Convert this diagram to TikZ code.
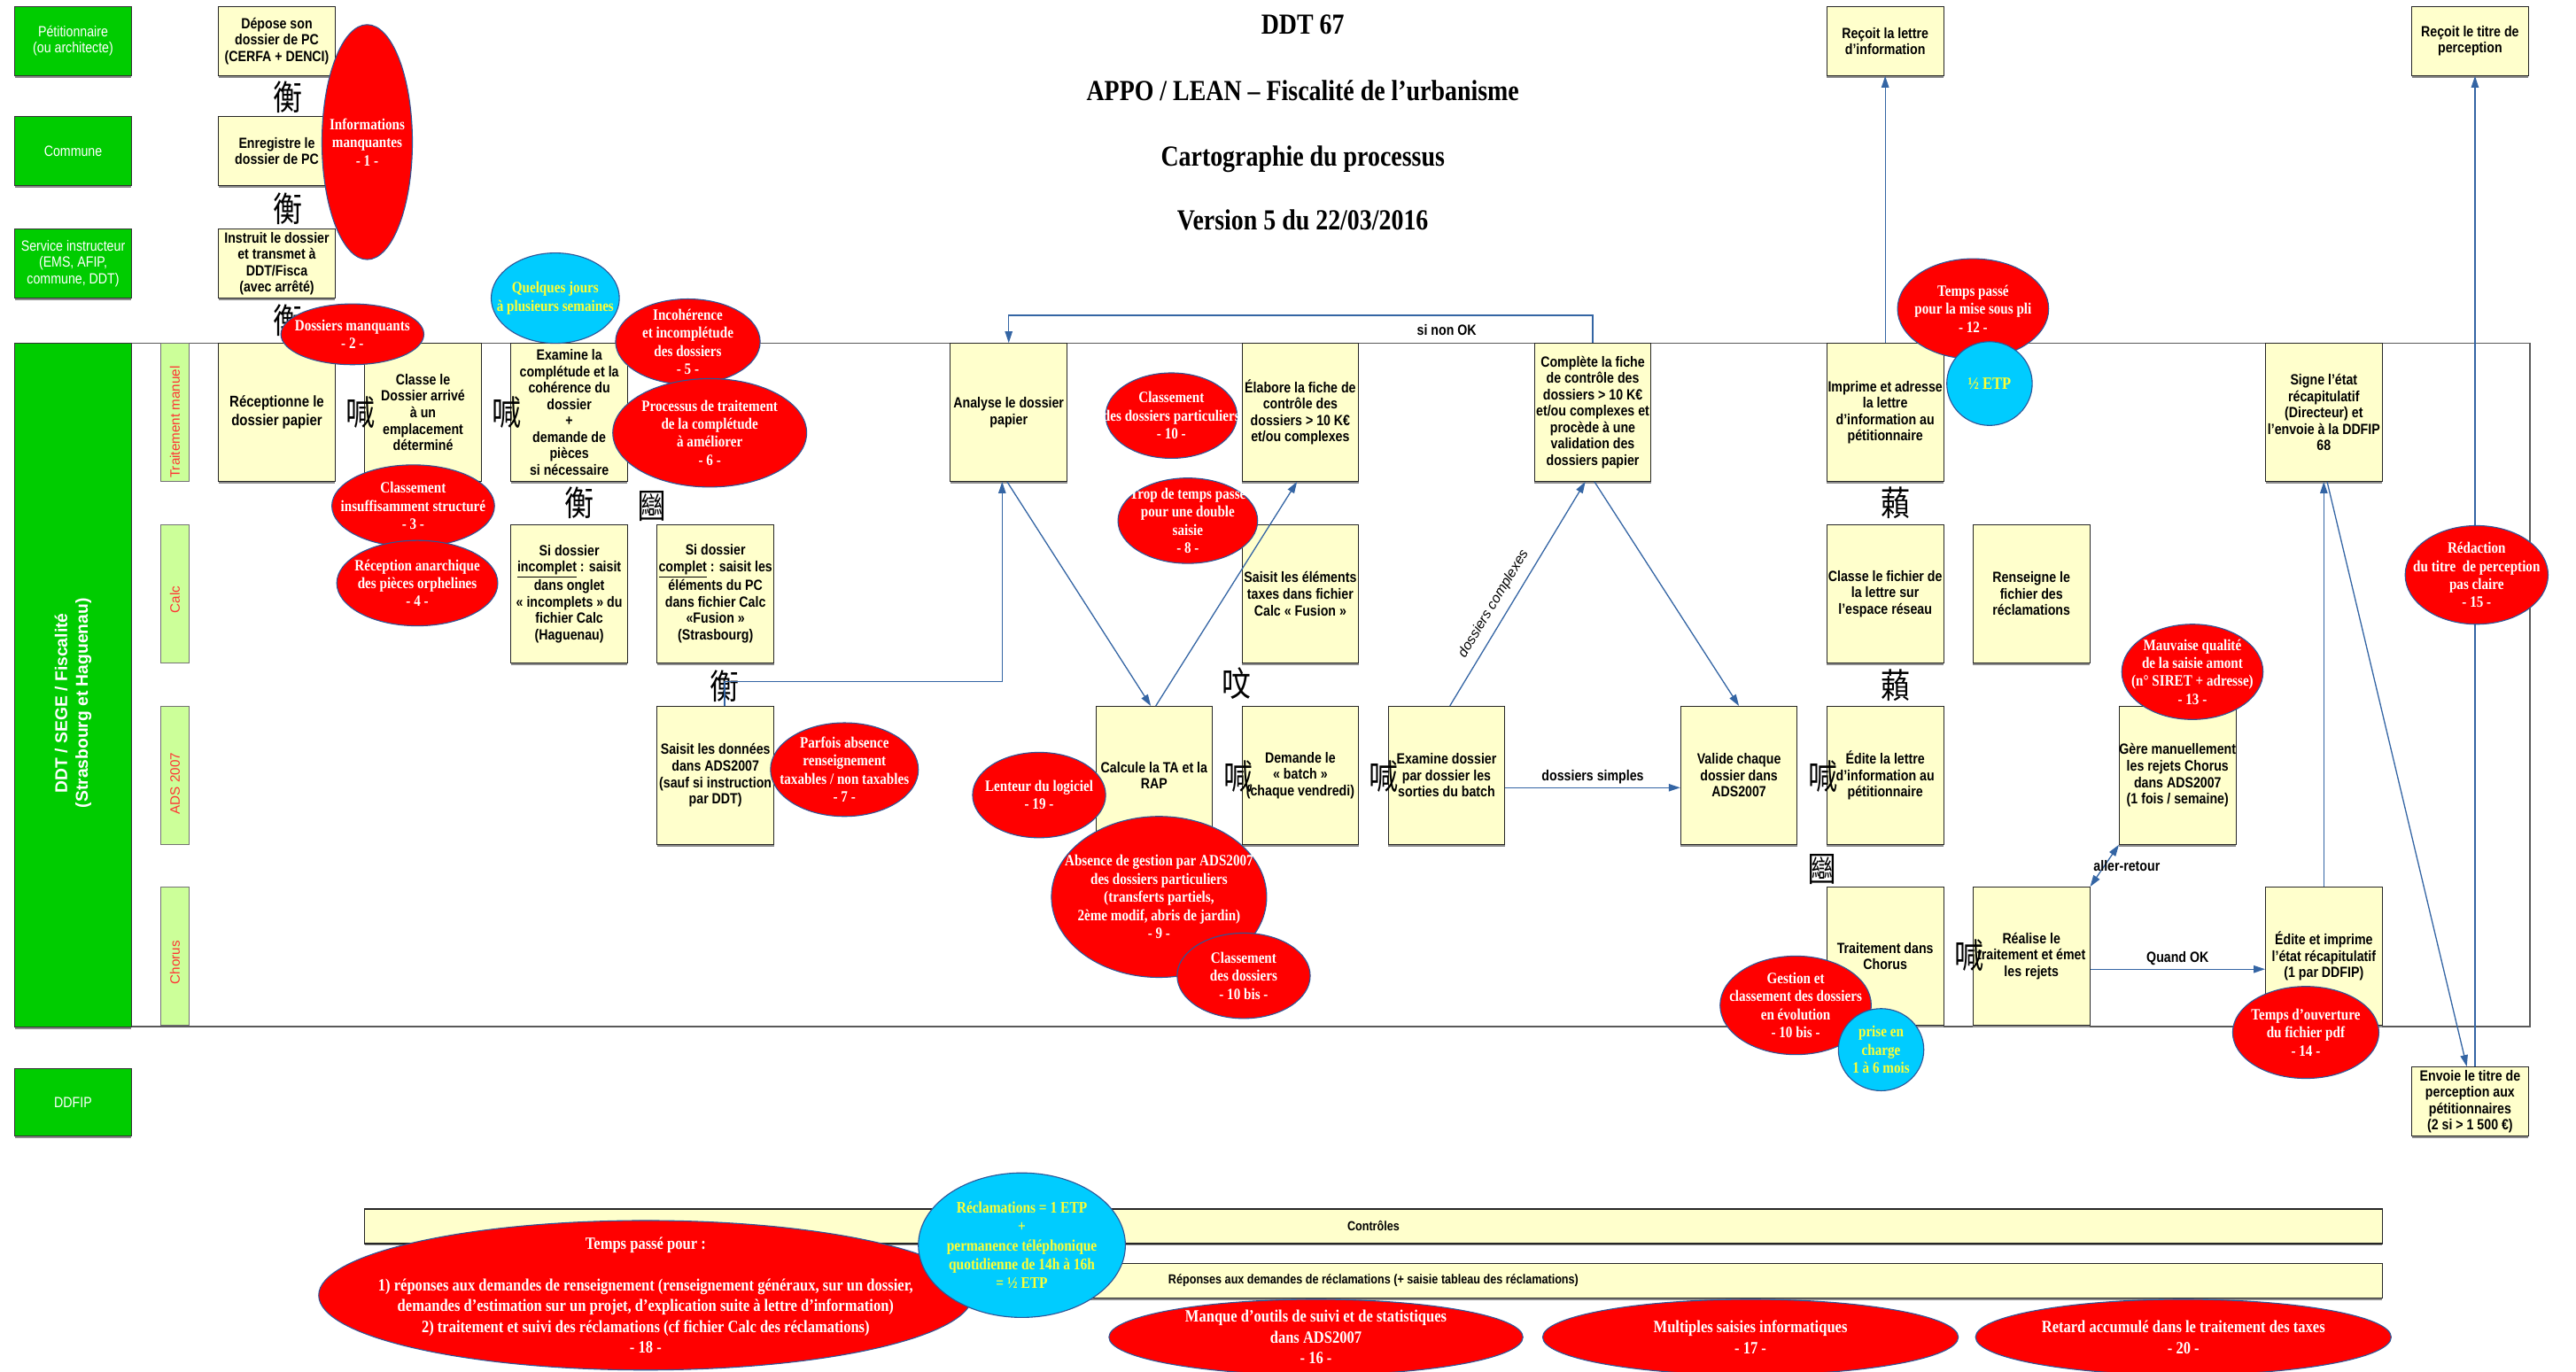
\documentclass[tikz,border=0pt]{standalone}
\usepackage{fontspec}
\setmainfont{Liberation Sans}
\newfontfamily\arf{Liberation Sans}[FakeStretch=0.85]
\newfontfamily\tmf{Liberation Serif}[FakeStretch=0.85]
\newfontfamily\cjkf{Noto Sans CJK SC}[FakeStretch=0.85]
\usetikzlibrary{shapes.geometric,arrows.meta,shadows}
\definecolor{grn}{HTML}{00CC00}
\definecolor{lgrn}{HTML}{CCFF99}
\definecolor{byel}{HTML}{FFFFCC}
\definecolor{cyn}{HTML}{00CCFF}
\definecolor{ytxt}{HTML}{FFFF33}
\definecolor{cblue}{HTML}{3465A4}
\definecolor{lred}{HTML}{FF3333}
\definecolor{ellborder}{HTML}{2F5597}
\tikzset{
  bxshape/.style={draw=black!85, fill=byel, line width=0.5pt, minimum width=71pt, inner sep=0pt,
    drop shadow={shadow xshift=0pt, shadow yshift=-1.3pt, fill=black!45, opacity=1}},
  bxtext/.style={align=center, inner sep=0pt, text=black, font=\arf\bfseries\fontsize{9}{10}\selectfont},
  grnbox/.style={draw=black!80, fill=grn, line width=0.5pt, minimum width=71pt, inner sep=0pt,
    text=white, align=center, font=\arf\fontsize{9}{9.8}\selectfont,
    drop shadow={shadow xshift=0pt, shadow yshift=-1.3pt, fill=black!45, opacity=1}},
  lanebox/.style={draw=black!55, fill=lgrn, line width=0.5pt, minimum width=17pt, minimum height=84pt, inner sep=0pt},
  lanetxt/.style={rotate=90, text=lred, font=\fontsize{8.2}{9}\selectfont, inner sep=0pt},
  issshape/.style={ellipse, fill=red, draw=ellborder, line width=0.6pt, inner sep=0pt},
  isstext/.style={align=center, text=white, inner sep=0pt, font=\tmf\bfseries\fontsize{9.6}{11}\selectfont},
  bigiss/.style={font=\tmf\bfseries\fontsize{10.5}{12.6}\selectfont},
  glyph/.style={font=\cjkf\fontsize{21}{21}\selectfont, inner sep=0pt, text=black},
  conn/.style={draw=cblue, line width=0.7pt, -{Triangle[length=7pt,width=4.5pt]}},
  conntwo/.style={draw=cblue, line width=0.7pt, {Triangle[length=7pt,width=4.5pt]}-{Triangle[length=7pt,width=4.5pt]}},
  lbl/.style={font=\arf\bfseries\fontsize{9}{10}\selectfont, inner sep=1pt, text=black},
  titl/.style={font=\tmf\bfseries\fontsize{17.7}{20}\selectfont, anchor=base},
  barbox/.style={draw=black!85, fill=byel, line width=0.6pt, minimum width=1228pt, minimum height=21pt,
    inner sep=0pt, font=\arf\bfseries\fontsize{8}{9}\selectfont,
    drop shadow={shadow xshift=0pt, shadow yshift=-1.3pt, fill=black!45, opacity=1}}
}
\newcommand\mybox[6][]{%
  \node[bxshape,minimum height=#5pt] (#2) at (#3,#4) {};
  \node[bxtext,#1] (#2-t) at (#2) {#6};}
\newcommand\myiss[7][]{%
  \node[issshape,minimum width=#5pt,minimum height=#6pt] (#2) at (#3,#4) {};
  \node[isstext,#1] (#2-t) at (#2) {#7};}
\newcommand\mycyan[7][]{%
  \node[issshape,fill=cyn,minimum width=#5pt,minimum height=#6pt] (#2) at (#3,#4) {};
  \node[isstext,text=ytxt,#1] (#2-t) at (#2) {#7};}
\newcommand\myglyph[4]{\node[glyph] (#1) at (#2,#3) {#4};}
\begin{document}
\begin{tikzpicture}[x=1pt,y=-1pt]
\fill[white] (0,0) rectangle (1568,835);
\useasboundingbox (0,0) rectangle (1568,835);

% titles
\node[titl] (t1) at (793,20.5) {DDT 67};
\node[titl] (t2) at (793,61) {APPO / LEAN – Fiscalité de l’urbanisme};
\node[titl] (t3) at (793,101) {Cartographie du processus};
\node[titl] (t4) at (793,140) {Version 5 du 22/03/2016};

% swimlane frame
\draw[draw=black!65, line width=0.9pt] (80,209) rectangle (1540,625);

% actors
\node[grnbox, minimum height=42pt] (g-pet) at (44.5,25) {Pétitionnaire\\(ou architecte)};
\node[grnbox, minimum height=42pt] (g-com) at (44.5,92) {Commune};
\node[grnbox, minimum height=42pt] (g-ser) at (44.5,160.5) {Service instructeur\\(EMS, AFIP,\\commune, DDT)};
\node[grnbox, minimum height=416pt] (g-ddt) at (44.5,417) {};
\node[rotate=90, text=white, align=center, inner sep=0pt, font=\bfseries\fontsize{10.4}{12.5}\selectfont] (g-ddt-t) at (44.5,428) {DDT / SEGE / Fiscalité\\(Strasbourg et Haguenau)};
\node[grnbox, minimum height=41pt] (g-ddfip) at (44.5,671) {DDFIP};

% lanes
\node[lanebox] (l1) at (106.5,251) {};
\node[lanetxt] (l1-t) at (106.5,257) {Traitement manuel};
\node[lanebox] (l2) at (106.5,361.5) {};
\node[lanetxt] (l2-t) at (106.5,365) {Calc};
\node[lanebox] (l3) at (106.5,472) {};
\node[lanetxt] (l3-t) at (106.5,477) {ADS 2007};
\node[lanebox] (l4) at (106.5,582) {};
\node[lanetxt] (l4-t) at (106.5,586) {Chorus};

% top boxes
\mybox{depose}{168.5}{25}{42}{Dépose son\\dossier de PC\\(CERFA + DENCI)}
\mybox{enreg}{168.5}{92}{42}{Enregistre le\\dossier de PC}
\mybox{instruit}{168.5}{160.5}{42}{Instruit le dossier\\et transmet à\\DDT/Fisca\\(avec arrêté)}
\mybox{recoitl}{1147.5}{25}{42}{Reçoit la lettre\\d’information}
\mybox{recoitt}{1503.5}{25}{42}{Reçoit le titre de\\perception}
\mybox{envoie}{1503.5}{670.5}{42}{Envoie le titre de\\perception aux\\pétitionnaires\\(2 si > 1 500 €)}

% lane 1
\mybox[font=\arf\bfseries\fontsize{9.5}{11}\selectfont]{recept}{168.5}{251}{84}{Réceptionne le\\dossier papier}
\mybox{classe}{257.5}{251}{84}{Classe le\\Dossier arrivé\\à un\\emplacement\\déterminé}
\mybox{examine}{346.5}{251}{84}{Examine la\\complétude et la\\cohérence du\\dossier\\+\\demande de\\pièces\\si nécessaire}
\mybox{analyse}{614}{251}{84}{Analyse le dossier\\papier}
\mybox{elabore}{791.5}{251}{84}{Élabore la fiche de\\contrôle des\\dossiers > 10 K€\\et/ou complexes}
\mybox{complete}{969.5}{251}{84}{Complète la fiche\\de contrôle des\\dossiers > 10 K€\\et/ou complexes et\\procède à une\\validation des\\dossiers papier}
\mybox{imprime}{1147.5}{251}{84}{Imprime et adresse\\la lettre\\d’information au\\pétitionnaire}
\mybox{signe}{1414.5}{251}{84}{Signe l’état\\récapitulatif\\(Directeur) et\\l’envoie à la DDFIP\\68}

% lane 2
\mybox{sincomp}{346.5}{361.5}{84}{Si dossier\\\underline{incomplet} : saisit\\dans onglet\\« incomplets » du\\fichier Calc\\(Haguenau)}
\mybox{scomp}{435.5}{361.5}{84}{Si dossier\\\underline{complet} : saisit les\\éléments du PC\\dans fichier Calc\\«Fusion »\\(Strasbourg)}
\mybox{saisitx}{791.5}{361.5}{84}{Saisit les éléments\\taxes dans fichier\\Calc « Fusion »}
\mybox{classef}{1147.5}{361.5}{84}{Classe le fichier de\\la lettre sur\\l’espace réseau}
\mybox{renseigne}{1236.5}{361.5}{84}{Renseigne le\\fichier des\\réclamations}

% lane 3
\mybox{saisitdon}{435.5}{472}{84}{Saisit les données\\dans ADS2007\\(sauf si instruction\\par DDT)}
\mybox{calcule}{702.5}{472}{84}{Calcule la TA et la\\RAP}
\mybox{demande}{791.5}{472}{84}{Demande le\\« batch »\\(chaque vendredi)}
\mybox{examdos}{880.5}{472}{84}{Examine dossier\\par dossier les\\sorties du batch}
\mybox{valide}{1058.5}{472}{84}{Valide chaque\\dossier dans\\ADS2007}
\mybox{editel}{1147.5}{472}{84}{Édite la lettre\\d’information au\\pétitionnaire}
\mybox{gere}{1325.5}{472}{84}{Gère manuellement\\les rejets Chorus\\dans ADS2007\\(1 fois / semaine)}

% lane 4
\mybox{traitch}{1147.5}{582}{84}{Traitement dans\\Chorus}
\mybox{realise}{1236.5}{582}{84}{Réalise le\\traitement et émet\\les rejets}
\mybox{editeimp}{1414.5}{582}{84}{Édite et imprime\\l’état récapitulatif\\(1 par DDFIP)}

% bottom bars
\node[barbox] (ctrl) at (836,746.5) {Contrôles};
\node[barbox] (repon) at (836,779.5) {Réponses aux demandes de réclamations (+ saisie tableau des réclamations)};

% glyphs
\myglyph{g1}{175}{59}{衡}
\myglyph{g2}{175}{127}{衡}
\myglyph{g3}{175}{195}{衡}
\myglyph{g4}{352.5}{306}{衡}
\myglyph{g5}{441}{417.6}{衡}
\myglyph{g6}{219.5}{251.3}{喊}
\myglyph{g7}{308.5}{251.3}{喊}
\myglyph{g8}{753.6}{472.7}{喊}
\myglyph{g9}{842}{472.7}{喊}
\myglyph{g10}{1109.6}{472.5}{喊}
\myglyph{g11}{1198.7}{581.8}{喊}
\myglyph{g12}{397}{308}{圝}
\myglyph{g13}{1109.3}{529.3}{圝}
\myglyph{g14}{753}{416}{呅}
\myglyph{g15}{1154}{306}{藾}
\myglyph{g16}{1154}{417}{藾}

% connectors
\coordinate (sinon) at (0,192);
\coordinate (bendA) at (441,415);
\draw[conn] (complete.north) -- (complete.north |- sinon)
  -- node[pos=0.25, below=4pt, lbl] (lbl-sinon) {si non OK} (analyse.north |- sinon) -- (analyse.north);
\draw[conn] ([xshift=5.5pt]saisitdon.north) -- (bendA) -| ([xshift=-4pt]analyse.south);
\draw[conn] ([xshift=-1pt]analyse.south) -- ([xshift=-2pt]calcule.north);
\draw[conn] ([xshift=1pt]calcule.north) -- ([xshift=-2pt]elabore.south);
\draw[conn] ([xshift=2pt]examdos.north) -- node[pos=0.42, sloped, above=4.5pt, inner sep=0.5pt, font=\itshape\fontsize{8.5}{9}\selectfont] (lbl-cplx) {dossiers complexes} ([xshift=-4.5pt]complete.south);
\draw[conn] ([xshift=1pt]complete.south) -- (valide.north);
\draw[conn] ([yshift=-7.5pt]examdos.east) -- node[above=1pt, lbl] (lbl-simp) {dossiers simples} ([yshift=-7.5pt]valide.west);
\draw[conn] (imprime.north) -- (recoitl.south);
\draw[conn] (editeimp.north) -- (signe.south);
\draw[conn] ([xshift=2pt]signe.south) -- ([xshift=-2pt]envoie.north);
\draw[conn] ([xshift=3pt]envoie.north) -- ([xshift=3pt]recoitt.south);
\draw[conn] ([yshift=-8pt]realise.east) -- node[above=1pt, lbl] (lbl-ok) {Quand OK} ([yshift=-8pt]editeimp.west);
\draw[conntwo] (realise.north east) -- node[pos=0.5, anchor=west, xshift=-8pt, lbl] (lbl-ar) {aller-retour} (gere.south west);

% issues
\myiss{p1}{223.5}{86.5}{55}{143}{Informations\\manquantes\\- 1 -}
\myiss{p2}{214.5}{203.5}{87}{37}{Dossiers manquants\\- 2 -}
\myiss{p3}{251.5}{308}{99}{50}{Classement\\insuffisamment structuré\\- 3 -}
\myiss{p4}{254}{355}{98}{52}{Réception anarchique\\des pièces orphelines\\- 4 -}
\mycyan{c1}{338}{181.5}{78}{55}{Quelques jours\\à plusieurs semaines}
\myiss{p5}{418.7}{208}{88}{52}{Incohérence\\et incomplétude\\des dossiers\\- 5 -}
\myiss{p6}{432}{263.5}{118}{66}{Processus de traitement\\de la complétude\\à améliorer\\- 6 -}
\myiss{p7}{514}{468.5}{90}{57}{Parfois absence\\renseignement\\taxables / non taxables\\- 7 -}
\myiss{p10}{713}{253}{80}{52}{Classement\\des dossiers particuliers\\- 10 -}
\myiss{p8}{723}{317}{85}{52}{Trop de temps passé\\pour une double\\saisie\\- 8 -}
\myiss{p19}{632.5}{484}{81}{52}{Lenteur du logiciel\\- 19 -}
\myiss{p9}{705.5}{546}{131}{98}{Absence de gestion par ADS2007\\des dossiers particuliers\\(transferts partiels,\\2ème modif, abris de jardin)\\- 9 -}
\myiss{p10b}{757}{594}{81}{52}{Classement\\des dossiers\\- 10 bis -}
\myiss{p10c}{1093}{612}{92}{60}{Gestion et\\classement des dossiers\\en évolution\\- 10 bis -}
\mycyan{c3}{1145}{639}{52}{50}{prise en\\charge\\1 à 6 mois}
\myiss{p12}{1201}{188}{92}{61}{Temps passé\\pour la mise sous pli\\- 12 -}
\mycyan[font=\tmf\bfseries\fontsize{10.5}{12}\selectfont]{c2}{1211}{233.5}{52}{51}{½ ETP}
\myiss{p13}{1334.5}{409}{86}{58}{Mauvaise qualité\\de la saisie amont\\(n° SIRET + adresse)\\- 13 -}
\myiss{p14}{1403.5}{628.5}{89}{56}{Temps d’ouverture\\du fichier pdf\\- 14 -}
\myiss{p15}{1507.5}{350}{87}{60}{Rédaction\\du titre~ de perception\\pas claire\\- 15 -}
\myiss[bigiss]{p18}{393}{788.5}{398}{91}{Temps passé pour :\\[12.6pt]1) réponses aux demandes de renseignement (renseignement généraux, sur un dossier,\\demandes d’estimation sur un projet, d’explication suite à lettre d’information)\\2) traitement et suivi des réclamations (cf fichier Calc des réclamations)\\- 18 -}
\mycyan[font=\tmf\bfseries\fontsize{9.8}{11.5}\selectfont]{c4}{622}{758}{126}{88}{Réclamations = 1 ETP\\+\\permanence téléphonique\\quotidienne de 14h à 16h\\= ½ ETP}
\myiss[bigiss]{p16}{801}{814}{252}{46}{Manque d’outils de suivi et de statistiques\\dans ADS2007\\- 16 -}
\myiss[bigiss]{p17}{1065.5}{814}{253}{46}{Multiples saisies informatiques\\- 17 -}
\myiss[bigiss]{p20}{1329}{814}{253}{46}{Retard accumulé dans le traitement des taxes\\- 20 -}
\end{tikzpicture}
\end{document}
